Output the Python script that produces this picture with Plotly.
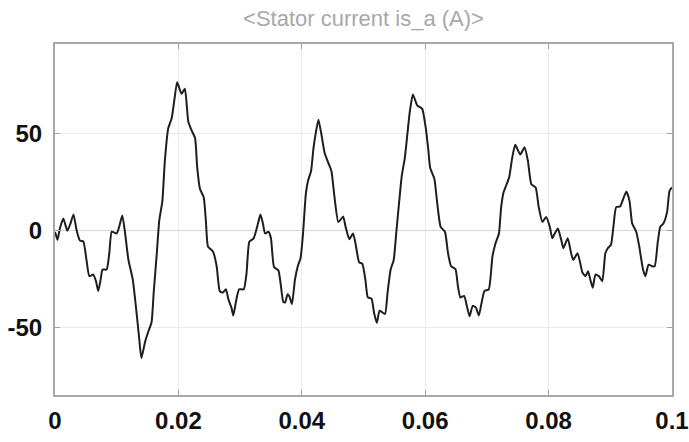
import plotly.graph_objects as go

# Time (ms) and stator current is_a (A)
time_ms = [0, 0.16, 0.4, 0.8, 1.35, 2.0, 2.5, 3.0, 3.5, 4.05, 4.6, 5.1, 5.56, 6.2, 6.64, 7.0, 7.4, 7.7,
           8.37, 8.8, 9.2, 10.0, 10.4, 10.9, 11.3, 11.9, 12.6, 13.1, 13.65, 14.0, 14.6, 15.1, 15.65,
           16.0, 16.5, 16.9, 17.4, 17.8, 18.35, 18.9, 19.3, 19.8, 20.5, 21.05, 21.6, 22.1, 22.7,
           23.05, 23.5, 24.1, 24.45, 24.8, 25.6, 26.2, 26.7, 27.2, 27.7, 28.1, 28.6, 28.9, 29.4,
           29.85, 30.6, 31.05, 31.5, 32.2, 32.9, 33.3, 33.7, 34.05, 34.6, 35.0, 35.5, 36.2, 36.55,
           37.0, 37.3, 37.7, 38.0, 38.4, 38.9, 39.35, 39.8, 40.2, 40.65, 41.0, 41.5, 41.9, 42.3,
           42.7, 43.2, 43.7, 44.3, 44.8, 45.3, 45.9, 46.3, 46.7, 47.1, 47.7, 48.3, 48.7, 49.3,
           49.8, 50.3, 50.7, 51.3, 51.7, 52.15, 52.6, 53.05, 53.5, 53.9, 54.4, 54.9, 55.3, 55.8,
           56.2, 56.7, 57.1, 57.5, 58.0, 58.7, 59.5, 60.1, 60.5, 60.8, 61.5, 61.9, 62.5, 63.2,
           63.7, 64.2, 64.9, 65.3, 65.7, 66.3, 66.8, 67.2, 67.7, 68.2, 68.7, 69.1, 69.6, 70.3,
           70.9, 71.4, 71.95, 72.3, 72.7, 73.1, 73.6, 74.1, 74.6, 75.4, 76.1, 76.65, 77.2, 77.9,
           78.4, 79.0, 79.6, 80.2, 80.6, 81.0, 81.5, 82.05, 82.4, 83.1, 83.65, 84.0, 84.7, 85.5,
           86.0, 86.4, 86.75, 87.15, 87.6, 88.15, 88.7, 89.2, 89.6, 90.1, 90.5, 90.95, 91.6, 92.0,
           92.6, 93.1, 93.55, 94.2, 94.7, 95.3, 95.7, 96.2, 96.8, 97.2, 97.7, 98.1, 98.6, 99.2,
           99.6, 100.0]

current_a = [-1, -2.5, -5, 1, 6, -0.3, 3.4, 8.1, 0, -5.4, -5.9, -15.3, -23.7, -22.9, -26.3, -31.4,
             -25.4, -20.3, -20.3, -11.9, -0.8, -1.7, 1.7, 7.6, 0, -15.3, -25.4, -39, -56, -66,
             -57.6, -52.5, -47.5, -32, -11.9, 5, 15, 35.6, 52.5, 57.6, 66, 76.3, 70.3, 72.9, 56,
             51.7, 47.5, 32.2, 21.2, 17, 5, -8.5, -11, -18.6, -31.4, -32.2, -30.5, -35.6, -40, -44,
             -35.6, -30.5, -30.5, -22, -5.9, -4.2, 3.4, 8.1, 3.4, -1.7, -0.8, -4.2, -19, -20.7,
             -27.1, -37, -37.3, -33, -34.2, -38.1, -25.4, -18.6, -14.4, -1.7, 18.6, 25.4, 30.5,
             42.4, 50.8, 57, 49, 39.8, 34.7, 30.5, 17, 4.2, 5.4, 7.1, 1.7, -4.7, -1.7, -6.8, -16.6,
             -17.3, -25.4, -34.7, -35.3, -42.4, -47.8, -41.5, -42.4, -43.2, -32.2, -20.3, -15.3,
             -1.7, 15.3, 28, 37.3, 49.2, 61, 70, 64.4, 62.7, 52.5, 41.5, 32.2, 26.3, 15.3, 1.7,
             -0.8, -11.9, -18.6, -20, -28.8, -34.7, -33.9, -39.8, -44.4, -39, -39.8, -44, -38.1,
             -31.4, -30.5, -13.6, -6.8, -1.7, 11.5, 19.5, 22.9, 27.1, 37.3, 44, 39, 42.7, 35.6,
             23.7, 22, 11.9, 4.2, 6.8, 1.7, -4.2, -1.7, 0.8, -5.1, -9.3, -4.2, -11.9, -15.3, -11.9,
             -22, -23.7, -21.2, -25.4, -29.7, -22.9, -23.7, -26.3, -11.9, -9.3, -7.6, 1.7, 11.9,
             12.2, 15.3, 20, 15.3, 3.4, -0.8, -8.5, -20.3, -23.7, -17.8, -18.6, -18.6, -5.9, 1.7,
             3.4, 9.3, 20.3, 22]

x_ticks = [0, 0.02, 0.04, 0.06, 0.08, 0.1]
x_tick_labels = ["0", "0.02", "0.04", "0.06", "0.08", "0.1"]
y_ticks = [-50, 0, 50]
y_tick_labels = ["-50", "0", "50"]
title_text = "&lt;Stator current is_a (A)&gt;"

time_s = [t / 1000.0 for t in time_ms]

tick_font = dict(family="Liberation Sans, Arial", size=24, color="#111111", weight="bold")

fig = go.Figure(
    go.Scatter(x=time_s, y=current_a, mode="lines",
               line=dict(color="#1e1e1e", width=2, shape="spline", smoothing=0.5),
               hoverinfo="skip")
)

fig.update_layout(
    width=689, height=442,
    margin=dict(l=55, r=17, t=44, b=47),
    paper_bgcolor="white", plot_bgcolor="white",
    showlegend=False,
    title=dict(text=title_text, x=0.5, xref="paper", xanchor="center",
               y=1 - 18 / 442, yref="container", yanchor="middle",
               font=dict(family="Liberation Sans, Arial", size=22, color="#a8a8a8")),
)

fig.update_xaxes(
    range=[0, 0.1], tickmode="array", tickvals=x_ticks, ticktext=x_tick_labels,
    tickfont=tick_font, showgrid=True, gridcolor="#ebebeb", gridwidth=1,
    zeroline=False, showline=True, linecolor="#a8a8a8", linewidth=2, mirror="ticks",
    ticks="inside", ticklen=5, tickcolor="#a0a0a0", tickwidth=1,
    automargin=False, ticklabelstandoff=3,
)
fig.update_yaxes(
    range=[-85, 96], tickmode="array", tickvals=y_ticks, ticktext=y_tick_labels,
    tickfont=tick_font, showgrid=True, gridcolor="#ebebeb", gridwidth=1,
    zeroline=True, zerolinecolor="#dcd4e0", zerolinewidth=1,
    showline=True, linecolor="#a8a8a8", linewidth=2, mirror="ticks",
    ticks="inside", ticklen=5, tickcolor="#a0a0a0", tickwidth=1,
    automargin=False, ticklabelstandoff=6,
)

fig.write_html("out.html")
